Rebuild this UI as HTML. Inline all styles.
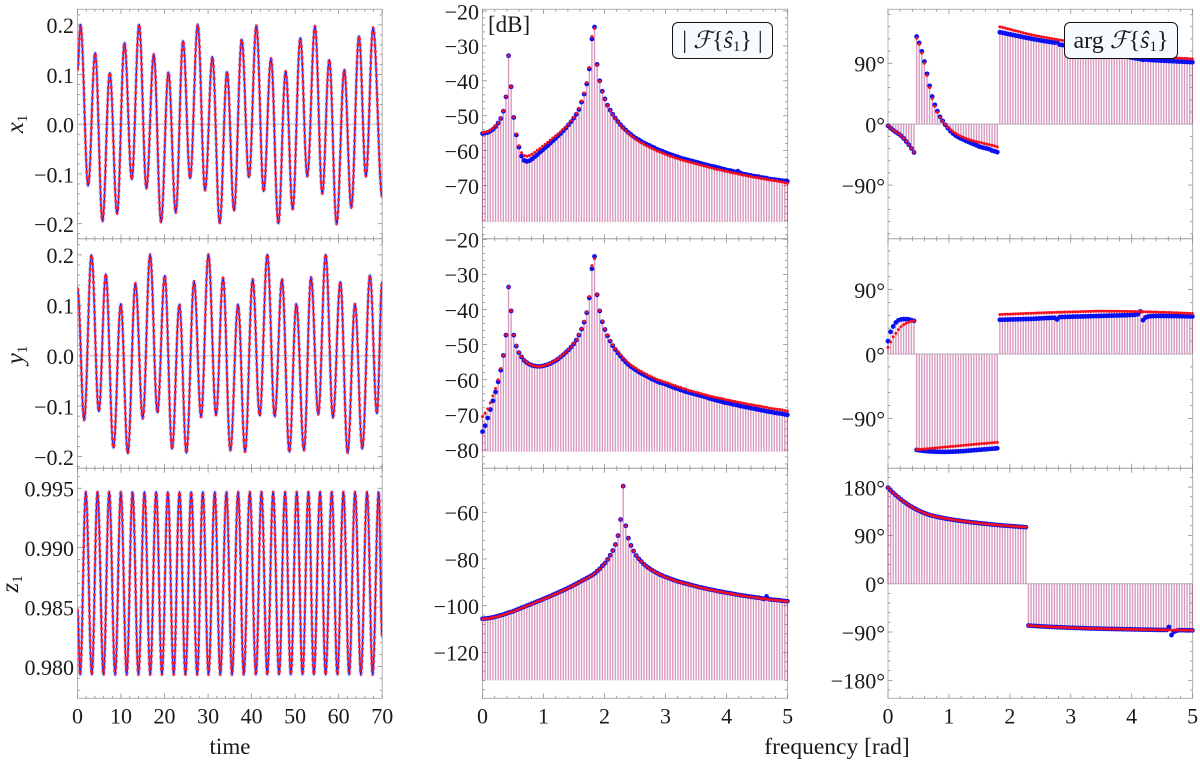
<!DOCTYPE html>
<html lang="en">
<head>
<meta charset="utf-8">
<title>Time series and Fourier spectra</title>
<style>
html,body{margin:0;padding:0;background:#fff;width:1200px;height:762px;overflow:hidden}
svg{display:block}
text{font-family:"Liberation Serif","DejaVu Serif",serif;fill:#1a1a1a}
</style>
</head>
<body>
<svg id="chart" width="1200" height="762" viewBox="0 0 1200 762" xmlns="http://www.w3.org/2000/svg">
  <g id="panels"></g>
  <text transform="translate(23,124) rotate(-90)" text-anchor="middle" font-size="25"><tspan font-style="italic">x</tspan><tspan font-size="15" dy="4">1</tspan></text>
  <text transform="translate(23,355) rotate(-90)" text-anchor="middle" font-size="25"><tspan font-style="italic">y</tspan><tspan font-size="15" dy="4">1</tspan></text>
  <text transform="translate(18,584) rotate(-90)" text-anchor="middle" font-size="25"><tspan font-style="italic">z</tspan><tspan font-size="15" dy="4">1</tspan></text>
  <text x="230" y="754" text-anchor="middle" font-size="23">time</text>
  <text x="837" y="754" text-anchor="middle" font-size="23.5">frequency [rad]</text>
  <text x="488" y="32" font-size="23">[dB]</text>
  <g>
    <rect x="672.5" y="22.5" width="100" height="36" rx="5.5" fill="#f6fbff" stroke="#111" stroke-width="1"/>
    <text x="722.5" y="48" text-anchor="middle" font-size="24">| <tspan font-style="italic">ℱ</tspan>{<tspan font-style="italic">ŝ</tspan><tspan font-size="15" dy="3">1</tspan><tspan dy="-3">}</tspan> |</text>
  </g>
  <g>
    <rect x="1064.5" y="22.5" width="113" height="36" rx="5.5" fill="#f6fbff" stroke="#111" stroke-width="1"/>
    <text x="1121" y="48" text-anchor="middle" font-size="24">arg <tspan font-style="italic">ℱ</tspan>{<tspan font-style="italic">ŝ</tspan><tspan font-size="15" dy="3">1</tspan><tspan dy="-3">}</tspan></text>
  </g>
</svg>
<script>
// ---------- time-domain data: turning points ----------
const x1Times = [0,0.69,2.45,4.05,5.74,7.42,9.1,10.79,12.47,14.15,15.84,17.52,19.2,20.89,22.57,24.25,25.87,27.62,29.3,30.99,32.67,34.35,35.96,37.72,39.4,41.09,42.77,44.45,46.14,47.82,49.43,51.19,52.79,54.55,56.24,57.84,59.53,61.29,62.9,64.66,66.26,67.91,70];
const x1Values = [0.109,0.201,-0.124,0.144,-0.195,0.104,-0.18,0.164,-0.111,0.201,-0.129,0.141,-0.197,0.105,-0.178,0.168,-0.109,0.201,-0.133,0.136,-0.199,0.106,-0.174,0.171,-0.107,0.199,-0.135,0.133,-0.2,0.107,-0.171,0.174,-0.105,0.198,-0.14,0.13,-0.201,0.11,-0.168,0.178,-0.105,0.195,-0.146];
const y1Times = [0,1.53,3.21,4.9,6.5,8.26,9.95,11.55,13.31,14.99,16.68,18.36,20.05,21.73,23.41,25.02,26.78,28.39,30.07,31.83,33.44,35.12,36.88,38.49,40.25,41.85,43.61,45.3,46.98,48.67,50.27,52.03,53.64,55.32,57.01,58.69,60.38,62.06,63.75,65.43,67.19,68.79,70];
const y1Values = [0.134,-0.128,0.2,-0.111,0.162,-0.183,0.103,-0.194,0.144,-0.125,0.201,-0.113,0.159,-0.185,0.102,-0.193,0.148,-0.122,0.201,-0.118,0.155,-0.188,0.102,-0.191,0.152,-0.119,0.201,-0.121,0.152,-0.191,0.103,-0.188,0.156,-0.117,0.201,-0.123,0.147,-0.193,0.103,-0.185,0.16,-0.115,0.147];
const z1Times = [0,0.61,1.91,3.29,4.6,5.97,7.28,8.65,9.96,11.3,12.64,14.0,15.39,16.7,18.07,19.4,20.75,22.1,23.43,24.8,26.11,27.5,28.79,30.1,31.54,32.8,34.22,35.5,36.9,38.2,39.58,41.0,42.26,43.6,44.94,46.3,47.69,49.0,50.37,51.7,53.05,54.3,55.73,57.0,58.41,59.7,61.09,62.4,63.77,65.1,66.53,67.8,69.2,70];
const z1Values = [0.9848,0.9793,0.9947,0.9793,0.9947,0.9793,0.9947,0.9793,0.9947,0.9793,0.9947,0.9793,0.9947,0.9793,0.9947,0.9793,0.9947,0.9793,0.9947,0.9793,0.9947,0.9793,0.9947,0.9793,0.9947,0.9793,0.9947,0.9793,0.9947,0.9793,0.9947,0.9793,0.9947,0.9793,0.9947,0.9793,0.9947,0.9793,0.9947,0.9793,0.9947,0.9793,0.9947,0.9793,0.9947,0.9793,0.9947,0.9793,0.9947,0.9793,0.9947,0.9793,0.9947,0.9825];

// ---------- spectra: one value per frequency bin ----------
const freqStep = 0.0427;

const magX1Blue = [-55.1,-55.0,-54.8,-54.4,-53.9,-53.1,-52.1,-50.8,-48.7,-44.6,
-32.8,-41.7,-50.5,-55.5,-59.0,-61.6,-62.8,-63.1,-62.9,-62.4,
-61.8,-61.2,-60.5,-59.9,-59.2,-58.6,-57.9,-57.2,-56.5,-55.8,
-55.1,-54.3,-53.5,-52.6,-51.7,-50.7,-49.6,-48.2,-46.1,-43.8,
-40.9,-36.6,-28.0,-24.6,-35.3,-40.0,-43.0,-45.2,-47.0,-48.4,
-49.6,-50.7,-51.7,-52.6,-53.4,-54.1,-54.8,-55.4,-56.0,-56.5,
-56.9,-57.4,-57.8,-58.2,-58.5,-58.9,-59.2,-59.6,-59.9,-60.2,
-60.5,-60.8,-61.1,-61.3,-61.6,-61.8,-62.1,-62.3,-62.5,-62.7,
-62.9,-63.1,-63.3,-63.5,-63.7,-63.9,-64.1,-64.3,-64.5,-64.6,
-64.8,-65.0,-65.2,-65.4,-65.6,-65.7,-65.9,-66.1,-65.9,-66.4,
-66.7,-66.8,-67.0,-67.1,-67.3,-67.4,-67.5,-67.7,-67.8,-67.9,
-68.1,-68.2,-68.3,-68.4,-68.5,-68.6,-68.7,-68.8];
const magX1Red = [-54.8,-54.7,-54.5,-54.1,-53.6,-52.9,-52.0,-50.7,-48.6,-44.5,
-32.8,-41.7,-50.4,-55.2,-58.6,-60.6,-61.4,-61.6,-61.4,-61.0,
-60.5,-59.9,-59.4,-58.8,-58.2,-57.6,-57.0,-56.4,-55.8,-55.2,
-54.6,-53.9,-53.2,-52.4,-51.5,-50.5,-49.3,-47.9,-45.8,-43.5,
-40.5,-36.2,-27.3,-25.0,-35.4,-40.1,-43.1,-45.3,-47.1,-48.5,
-49.7,-50.8,-51.8,-52.7,-53.5,-54.3,-55.0,-55.6,-56.2,-56.8,
-57.3,-57.8,-58.2,-58.6,-59.0,-59.4,-59.7,-60.1,-60.4,-60.7,
-61.0,-61.3,-61.6,-61.8,-62.1,-62.3,-62.6,-62.8,-63.0,-63.2,
-63.4,-63.6,-63.8,-64.0,-64.2,-64.4,-64.6,-64.8,-65.0,-65.2,
-65.4,-65.5,-65.7,-65.9,-66.0,-66.2,-66.4,-66.5,-66.7,-66.8,
-67.0,-67.1,-67.3,-67.4,-67.6,-67.7,-67.8,-68.0,-68.1,-68.2,
-68.4,-68.5,-68.6,-68.7,-68.9,-69.0,-69.2,-69.4];

const magY1Blue = [-74.8,-73.1,-70.9,-68.5,-66.0,-63.5,-60.6,-57.3,-53.1,-47.3,
-33.6,-40.4,-47.3,-50.4,-52.3,-53.5,-54.5,-55.1,-55.6,-55.9,
-56.1,-56.2,-56.2,-56.1,-55.9,-55.7,-55.4,-55.0,-54.6,-54.1,
-53.5,-52.9,-52.2,-51.5,-50.7,-49.8,-48.7,-47.3,-45.6,-43.6,
-40.9,-36.7,-28.4,-24.9,-35.8,-40.4,-43.5,-45.7,-47.5,-49.0,
-50.3,-51.4,-52.4,-53.3,-54.2,-55.0,-55.7,-56.3,-56.8,-57.3,
-57.8,-58.2,-58.6,-59.0,-59.4,-59.8,-60.1,-60.5,-60.8,-61.0,
-61.2,-61.5,-61.8,-62.1,-62.4,-62.6,-62.9,-63.1,-63.4,-63.6,
-63.8,-64.0,-64.2,-64.4,-64.6,-64.8,-65.0,-65.3,-65.5,-65.7,
-65.9,-66.1,-66.3,-66.5,-66.6,-66.8,-67.0,-67.1,-67.3,-67.5,
-67.6,-67.8,-67.9,-68.1,-68.2,-68.4,-68.5,-68.7,-68.8,-69.0,
-69.1,-69.2,-69.4,-69.5,-69.6,-69.7,-69.9,-70.0];
const magY1Red = [-70.5,-69.5,-68.3,-66.6,-64.6,-62.5,-60.0,-56.8,-53.1,-47.3,
-33.6,-40.4,-47.3,-50.3,-52.2,-53.4,-54.4,-55.0,-55.5,-55.9,
-56.1,-56.2,-56.2,-56.1,-55.9,-55.6,-55.3,-54.9,-54.5,-54.0,
-53.4,-52.8,-52.1,-51.4,-50.6,-49.7,-48.6,-47.2,-45.5,-43.4,
-40.7,-36.3,-27.5,-25.5,-35.7,-40.3,-43.4,-45.6,-47.3,-48.8,
-50.0,-51.1,-52.0,-52.9,-53.7,-54.5,-55.2,-55.8,-56.3,-56.8,
-57.3,-57.7,-58.1,-58.5,-58.9,-59.2,-59.6,-59.9,-60.2,-60.4,
-60.7,-60.9,-61.2,-61.5,-61.7,-62.0,-62.2,-62.5,-62.7,-63.0,
-63.2,-63.4,-63.6,-63.8,-64.0,-64.2,-64.4,-64.6,-64.8,-65.0,
-65.1,-65.3,-65.4,-65.6,-65.8,-65.9,-66.1,-66.2,-66.4,-66.5,
-66.7,-66.8,-67.0,-67.1,-67.2,-67.4,-67.5,-67.6,-67.8,-67.9,
-68.1,-68.2,-68.3,-68.4,-68.5,-68.6,-68.8,-68.9];

const magZ1Blue = [-105.6,-105.5,-105.4,-105.2,-105.0,-104.7,-104.4,-104.1,-103.8,-103.4,
-103.0,-102.7,-102.3,-101.8,-101.4,-100.9,-100.5,-100.0,-99.6,-99.1,
-98.7,-98.2,-97.8,-97.3,-96.8,-96.4,-95.9,-95.4,-94.9,-94.4,
-93.9,-93.4,-92.9,-92.3,-91.8,-91.2,-90.6,-90.0,-89.4,-88.8,
-88.2,-87.6,-87.0,-86.2,-85.2,-84.2,-82.9,-81.8,-80.2,-78.4,
-76.4,-73.8,-70.0,-63.1,-48.8,-65.8,-71.1,-74.2,-76.6,-78.5,
-79.9,-81.1,-82.3,-83.2,-84.0,-84.7,-85.4,-86.0,-86.6,-87.1,
-87.6,-88.0,-88.4,-88.8,-89.2,-89.6,-89.9,-90.2,-90.5,-90.8,
-91.1,-91.4,-91.7,-92.0,-92.2,-92.5,-92.7,-93.0,-93.2,-93.4,
-93.7,-93.9,-94.1,-94.3,-94.5,-94.7,-94.9,-95.1,-95.3,-95.5,
-95.7,-95.8,-96.0,-96.2,-96.3,-96.5,-96.6,-96.8,-97.1,-96.1,
-97.2,-97.4,-97.5,-97.6,-97.7,-97.9,-98.0,-98.1];
const magZ1Red = [-105.7,-105.6,-105.5,-105.3,-105.1,-104.8,-104.5,-104.2,-103.9,-103.5,
-103.1,-102.8,-102.4,-101.9,-101.5,-101.0,-100.6,-100.1,-99.7,-99.2,
-98.8,-98.3,-97.9,-97.4,-96.9,-96.5,-96.0,-95.5,-95.0,-94.5,
-94.0,-93.5,-93.0,-92.4,-91.9,-91.3,-90.7,-90.1,-89.5,-88.9,
-88.3,-87.7,-87.0,-86.2,-85.2,-84.2,-82.9,-81.8,-80.2,-78.4,
-76.4,-73.8,-70.0,-63.1,-48.8,-65.8,-71.1,-74.2,-76.6,-78.5,
-79.9,-81.1,-82.3,-83.2,-84.0,-84.7,-85.4,-86.0,-86.6,-87.1,
-87.7,-88.1,-88.5,-88.9,-89.3,-89.7,-90.0,-90.3,-90.6,-90.9,
-91.2,-91.5,-91.8,-92.1,-92.3,-92.6,-92.8,-93.1,-93.3,-93.5,
-93.8,-94.0,-94.2,-94.4,-94.6,-94.8,-95.0,-95.2,-95.4,-95.6,
-95.8,-95.9,-96.1,-96.3,-96.4,-96.6,-96.7,-96.9,-97.0,-97.1,
-97.3,-97.5,-97.6,-97.7,-97.8,-98.0,-98.1,-98.2];

const phaseX1Blue = [-2.5,-5.9,-8.9,-11.8,-14.3,-17.2,-21.0,-25.6,-30.5,-35.9,
-41.8,129.4,120,107.7,92.5,74.3,56.6,40.8,28.5,19.2,
10.8,4.9,-1,-5.9,-10.3,-13.8,-16.9,-19.2,-21.2,-23,
-24.8,-26.5,-28.1,-29.6,-31.2,-33,-34.1,-35.1,-36,-37,
-39,-40,-41.3,135.8,135,134.2,133.4,132.6,131.8,131,
130.2,129.4,128.6,127.8,127,126.3,125.6,124.9,124.2,123.5,
122.8,122.2,121.6,121,120.4,121,117.5,117,116.3,115.6,
114.9,114.2,113.5,112.8,112.1,111.4,110.7,110,109.3,108.6,
107.9,107.2,106.5,105.8,105.1,104.4,103.7,103,102.3,101.6,
100.9,100.2,99.5,98.8,98.1,97.4,96.8,96.2,95,95.4,
95,94.8,94.6,94.3,94.1,93.9,93.7,93.5,93.3,93.1,
92.9,92.7,92.5,92.3,92.1,91.9,91.7,91.5];
const phaseX1Red = [-2.2,-5.6,-8.6,-11.5,-14,-17,-20.8,-25.4,-30.4,-35.8,
-41.4,127,118,105,90,72,54,38,26.5,17.5,
10,4.5,-0.5,-4.5,-8,-11,-13.6,-15.8,-17.8,-19.5,
-21,-22.4,-23.6,-24.8,-25.8,-26.8,-27.7,-28.6,-29.5,-30.4,
-31.3,-32.3,-33.5,144,143,142,141,140,139,138,
137,136,135,134,133,132.2,131.4,130.6,129.9,129.2,
128.5,127.8,127.1,126.4,125.7,125,124.4,123.7,123,122.3,
121.6,120.9,120.2,119.5,118.8,118.1,117.4,116.7,116,115.3,
114.6,113.9,113.2,112.5,111.8,111.1,110.4,109.7,109,108.3,
107.6,106.9,106.2,105.5,104.8,104.1,103.4,102.7,102,101.6,
101.2,100.8,100.5,100.2,99.9,99.6,99.3,99,98.7,98.4,
98.1,97.8,97.6,97.4,97.2,97,96.7,96.4];

const phaseY1Blue = [18,31,38.5,44,47,48.3,48.7,48.7,48.3,47.3,
46.4,-134,-134.6,-135.1,-135.5,-135.8,-136.1,-136.3,-136.5,-136.6,
-136.7,-136.8,-136.8,-136.7,-136.6,-136.5,-136.3,-136.1,-135.9,-135.7,
-135.4,-135.1,-134.8,-134.5,-134.2,-133.9,-133.6,-133.3,-133,-132.7,
-132.4,-132.1,-131.8,47.8,47.9,48,48.1,48.2,48.3,48.4,
48.5,48.6,48.7,48.8,48.9,49,49.2,49.4,49.6,49.8,
50,50.2,50.4,50.5,50.6,48.3,51.5,51.7,51.8,51.9,
52,52.1,52.2,52.3,52.4,52.5,52.6,52.7,52.8,52.9,
53,53.1,53.2,53.3,53.4,53.5,53.6,53.7,53.8,53.9,
54,54.1,54.2,54.4,54.6,54.8,55.5,59.4,47.3,51,
52.4,52.8,53,53.1,53.2,53.2,53.2,53.1,53.1,53,
53,52.9,52.9,52.8,52.7,52.6,52.5,52.4];
const phaseY1Red = [9.3,17,24,29,34,38,41,43,44.5,45.5,
46.4,-133.6,-133.3,-133,-132.6,-132.3,-132,-131.6,-131.3,-131,
-130.7,-130.3,-130,-129.7,-129.3,-129,-128.7,-128.3,-128,-127.7,
-127.3,-127,-126.7,-126.3,-126,-125.7,-125.3,-125,-124.7,-124.3,
-124,-123.7,-123.4,55.2,55.4,55.5,55.7,55.8,55.9,56.1,
56.2,56.4,56.5,56.7,56.8,57,57.1,57.2,57.4,57.5,
57.7,57.8,57.9,58,58.1,58.3,58.4,58.5,58.6,58.7,
58.8,58.9,59,59.1,59.2,59.3,59.4,59.5,59.6,59.7,
59.9,59.9,59.9,59.9,59.9,59.8,59.8,59.8,59.7,59.7,
59.6,59.6,59.5,59.5,59.4,59.3,59.3,59.2,59.1,59,
58.9,58.8,58.7,58.6,58.5,58.4,58.3,58.2,58,57.9,
57.7,57.6,57.4,57.3,57.1,57,56.8,56.6];

const phaseZ1Blue = [178.8,174,169.5,165,161,157,153.2,149.8,146.6,143.6,
140.8,138.2,135.8,133.6,131.6,129.8,128.2,126.8,125.6,124.5,
123.5,122.5,121.6,120.7,119.9,119.1,118.4,117.7,117,116.3,
115.7,115.1,114.5,113.9,113.4,112.8,112.3,111.8,111.3,110.8,
110.3,109.9,109.4,109,108.6,108.2,107.8,107.4,107,106.7,
106.4,106,105.6,105.2,-78,-78.3,-78.6,-78.9,-79.2,-79.5,
-79.8,-80,-80.3,-80.5,-80.8,-81,-81.2,-81.4,-81.6,-81.9,
-82,-82.2,-82.4,-82.5,-82.7,-82.9,-83,-83.2,-83.3,-83.5,
-83.6,-83.7,-83.9,-84,-84.1,-84.2,-84.3,-84.4,-84.5,-84.6,
-84.7,-84.8,-84.9,-85,-85.1,-85.2,-85.3,-85.4,-85.5,-85.6,
-85.7,-85.8,-85.9,-86,-86.1,-86.1,-86.2,-86.3,-80.6,-95.6,
-89.4,-87.5,-86.6,-86.6,-86.7,-86.8,-86.8,-86.9];
const phaseZ1Red = [178.8,174,169.5,165,161,157,153.2,149.8,146.6,143.6,
140.8,138.2,135.8,133.6,131.6,129.8,128.2,126.8,125.6,124.5,
123.5,122.5,121.6,120.7,119.9,119.1,118.4,117.7,117,116.3,
115.7,115.1,114.5,113.9,113.4,112.8,112.3,111.8,111.3,110.8,
110.3,109.9,109.4,109,108.6,108.2,107.8,107.4,107,106.7,
106.4,106,105.6,105.2,-78,-78.3,-78.6,-78.9,-79.2,-79.5,
-79.8,-80,-80.3,-80.5,-80.8,-81,-81.2,-81.4,-81.6,-81.9,
-82,-82.2,-82.4,-82.5,-82.7,-82.9,-83,-83.2,-83.3,-83.5,
-83.6,-83.7,-83.9,-84,-84.1,-84.2,-84.3,-84.4,-84.5,-84.6,
-84.7,-84.8,-84.9,-85,-85.1,-85.2,-85.3,-85.4,-85.5,-85.6,
-85.7,-85.8,-85.9,-86,-86.1,-86.1,-86.2,-86.3,-86.3,-86.4,
-86.5,-86.5,-86.6,-86.6,-86.7,-86.8,-86.8,-86.9];

// ---------- tick labels ----------
const timeTicks = [0,10,20,30,40,50,60,70];
const freqTicks = [0,1,2,3,4,5];
const x1Ticks = ['0.2','0.1','0.0','-0.1','-0.2'];
const z1Ticks = ['0.995','0.990','0.985','0.980'];
const magTopTicks = [-20,-30,-40,-50,-60,-70];
const magMidTicks = [-20,-30,-40,-50,-60,-70,-80];
const magLowTicks = [-60,-80,-100,-120];
const phaseTopTicks = [90,0,-90];
const phaseLowTicks = [180,90,0,-90,-180];

// ---------- layout ----------
const colLeft = [77.5, 482.5, 888];
const colRight = [382.2, 787.6, 1192.6];
const rowTop = [9.3, 238.7, 468.3];
const rowBottom = [238.7, 468.3, 698.3];

const svgNS = 'http://www.w3.org/2000/svg';
const root = document.getElementById('panels');

function make(tag, parent) {
  const el = document.createElementNS(svgNS, tag);
  parent.appendChild(el);
  return el;
}

function scale(d0, d1, r0, r1) {
  return function (v) { return r0 + (v - d0) / (d1 - d0) * (r1 - r0); };
}

function addAxes(group, key, col, row, xDomain, xMajor, xMinorStep, yDomain, yMajor, yMinorStep, suffix, showXLabels, labelRight) {
  const L = colLeft[col], R = colRight[col], T = rowTop[row], B = rowBottom[row];
  const sx = scale(xDomain[0], xDomain[1], L, R);
  const sy = scale(yDomain[0], yDomain[1], B, T);

  const frame = make('rect', group);
  
  
  frame.setAttribute('x', L);
  frame.setAttribute('y', T);
  frame.setAttribute('width', R - L);
  frame.setAttribute('height', B - T);
  frame.setAttribute('fill', 'none');
  frame.setAttribute('stroke', '#b0b0b0');
  frame.setAttribute('stroke-width', '1');

  const majorX = xMajor.map(Number);
  const nx = Math.round((xDomain[1] - xDomain[0]) / xMinorStep);
  for (let i = 0; i <= nx; i++) {
    const v = xDomain[0] + i * xMinorStep;
    const isMajor = majorX.some(function (m) { return Math.abs(m - v) < 1e-6; });
    const len = isMajor ? 4.5 : 2.5;
    [[B, B - len], [T, T + len]].forEach(function (p) {
      const t = make('line', group);
      
      
      t.setAttribute('x1', sx(v));
      t.setAttribute('x2', sx(v));
      t.setAttribute('y1', p[0]);
      t.setAttribute('y2', p[1]);
      t.setAttribute('stroke', '#8c8c8c');
      t.setAttribute('stroke-width', '0.8');
    });
  }

  const majorY = yMajor.map(Number);
  const first = Math.ceil(yDomain[0] / yMinorStep);
  const last = Math.floor(yDomain[1] / yMinorStep);
  for (let i = first; i <= last; i++) {
    const v = i * yMinorStep;
    const isMajor = majorY.some(function (m) { return Math.abs(m - v) < yMinorStep * 0.01; });
    const len = isMajor ? 4.5 : 2.5;
    [[L, L + len], [R, R - len]].forEach(function (p) {
      const t = make('line', group);
      
      
      t.setAttribute('x1', p[0]);
      t.setAttribute('x2', p[1]);
      t.setAttribute('y1', sy(v));
      t.setAttribute('y2', sy(v));
      t.setAttribute('stroke', '#8c8c8c');
      t.setAttribute('stroke-width', '0.8');
    });
  }

  yMajor.forEach(function (label) {
    const t = make('text', group);
    
    
    t.setAttribute('x', labelRight);
    t.setAttribute('y', sy(Number(label)) + 8.3);
    t.setAttribute('text-anchor', 'end');
    t.setAttribute('font-size', '22');
    t.textContent = String(label).replace('-', '\u2212') + suffix;
  });

  if (showXLabels) {
    xMajor.forEach(function (label) {
      const t = make('text', group);
      
      
      t.setAttribute('x', sx(label));
      t.setAttribute('y', 723.5);
      t.setAttribute('text-anchor', 'middle');
      t.setAttribute('font-size', '22');
      t.textContent = String(label);
    });
  }
  return { sx: sx, sy: sy };
}

function drawTimePanel(key, row, times, values, yDomain, yMajor, yMinorStep, zeroLine) {
  const group = make('g', root);
  
  

  const clip = make('clipPath', group);
  clip.setAttribute('id', 'clip-' + key);
  const clipRect = make('rect', clip);
  clipRect.setAttribute('x', colLeft[0]);
  clipRect.setAttribute('y', rowTop[row]);
  clipRect.setAttribute('width', colRight[0] - colLeft[0]);
  clipRect.setAttribute('height', rowBottom[row] - rowTop[row]);

  const a = addAxes(group, key, 0, row, [0, 70], timeTicks, 2, yDomain, yMajor, yMinorStep, '', row === 2, 74);

  if (zeroLine) {
    const z = make('line', group);
    
    
    z.setAttribute('x1', colLeft[0]);
    z.setAttribute('x2', colRight[0]);
    z.setAttribute('y1', a.sy(0));
    z.setAttribute('y2', a.sy(0));
    z.setAttribute('stroke', '#bbbbbb');
    z.setAttribute('stroke-width', '1');
  }

  let d = 'M' + a.sx(times[0]).toFixed(2) + ' ' + a.sy(values[0]).toFixed(2);
  for (let i = 1; i < times.length; i++) {
    const x0 = a.sx(times[i - 1]), x1 = a.sx(times[i]);
    const y0 = a.sy(values[i - 1]), y1 = a.sy(values[i]);
    const c = (x1 - x0) * 0.3642;
    d += 'C' + (x0 + c).toFixed(2) + ' ' + y0.toFixed(2) + ' ' + (x1 - c).toFixed(2) + ' ' + y1.toFixed(2) + ' ' + x1.toFixed(2) + ' ' + y1.toFixed(2);
  }

  const halo = make('path', group);
  
  
  halo.setAttribute('d', d);
  halo.setAttribute('fill', 'none');
  halo.setAttribute('stroke', '#5070ff');
  halo.setAttribute('stroke-opacity', '0.2');
  halo.setAttribute('stroke-width', '3.8');
  halo.setAttribute('clip-path', 'url(#clip-' + key + ')');

  const red = make('path', group);
  
  
  red.setAttribute('d', d);
  red.setAttribute('fill', 'none');
  red.setAttribute('stroke', '#ff1a2a');
  red.setAttribute('stroke-width', '2.4');
  red.setAttribute('stroke-dasharray', '3.5 2.5');
  red.setAttribute('clip-path', 'url(#clip-' + key + ')');

  const blue = make('path', group);
  
  
  blue.setAttribute('d', d);
  blue.setAttribute('fill', 'none');
  blue.setAttribute('stroke', '#0a1cff');
  blue.setAttribute('stroke-width', '1.3');
  blue.setAttribute('stroke-dasharray', '2.5 3.5');
  blue.setAttribute('stroke-dashoffset', '-3.5');
  blue.setAttribute('clip-path', 'url(#clip-' + key + ')');
}

function drawSpectrumPanel(key, col, row, blueVals, redVals, base, yDomain, yMajor, yMinorStep, suffix, labelRight, baseLine) {
  const group = make('g', root);
  
  

  const a = addAxes(group, key, col, row, [0, 5], freqTicks, 0.2, yDomain, yMajor, yMinorStep, suffix, row === 2, labelRight);

  blueVals.forEach(function (v, k) {
    const s = make('line', group);
    
    
    s.setAttribute('x1', a.sx(k * freqStep));
    s.setAttribute('x2', a.sx(k * freqStep));
    s.setAttribute('y1', a.sy(base));
    s.setAttribute('y2', a.sy(v));
    s.setAttribute('stroke', '#802070');
    s.setAttribute('stroke-opacity', '0.26');
    s.setAttribute('stroke-width', '1.35');
  });
  redVals.forEach(function (v, k) {
    const s = make('line', group);
    
    
    s.setAttribute('x1', a.sx(k * freqStep));
    s.setAttribute('x2', a.sx(k * freqStep));
    s.setAttribute('y1', a.sy(base));
    s.setAttribute('y2', a.sy(v));
    s.setAttribute('stroke', '#c82070');
    s.setAttribute('stroke-opacity', '0.26');
    s.setAttribute('stroke-width', '1.35');
  });

  if (baseLine) {
    const z = make('line', group);
    
    
    z.setAttribute('x1', colLeft[col]);
    z.setAttribute('x2', colRight[col]);
    z.setAttribute('y1', a.sy(0));
    z.setAttribute('y2', a.sy(0));
    z.setAttribute('stroke', '#b8a8b8');
    z.setAttribute('stroke-width', '1');
  }

  blueVals.forEach(function (v, k) {
    const p = make('circle', group);
    
    
    p.setAttribute('cx', a.sx(k * freqStep));
    p.setAttribute('cy', a.sy(v));
    p.setAttribute('r', '2.4');
    p.setAttribute('fill', '#0a10f0');
  });
  redVals.forEach(function (v, k) {
    const p = make('circle', group);
    
    
    p.setAttribute('cx', a.sx(k * freqStep));
    p.setAttribute('cy', a.sy(v));
    p.setAttribute('r', '1.5');
    p.setAttribute('fill', '#f5101e');
  });
}

drawTimePanel('x1-time', 0, x1Times, x1Values, [-0.2302, 0.2314], x1Ticks, 0.02, true);
drawTimePanel('y1-time', 1, y1Times, y1Values, [-0.2234, 0.2321], x1Ticks, 0.02, true);
drawTimePanel('z1-time', 2, z1Times, z1Values, [0.97732, 0.99668], z1Ticks, 0.001, false);

drawSpectrumPanel('x1-magnitude', 1, 0, magX1Blue, magX1Red, -80.5, [-85.24, -19.51], magTopTicks, 2, '', 479, false);
drawSpectrumPanel('y1-magnitude', 1, 1, magY1Blue, magY1Red, -80.5, [-85.24, -19.83], magMidTicks, 2, '', 479, false);
drawSpectrumPanel('z1-magnitude', 1, 2, magZ1Blue, magZ1Red, -132, [-139.66, -41.16], magLowTicks, 4, '', 479, false);

drawSpectrumPanel('x1-phase', 2, 0, phaseX1Blue, phaseX1Red, 0, [-169.2, 169.7], phaseTopTicks, 18, '\u00b0', 885, true);
drawSpectrumPanel('y1-phase', 2, 1, phaseY1Blue, phaseY1Red, 0, [-159.7, 161.1], phaseTopTicks, 18, '\u00b0', 885, true);
drawSpectrumPanel('z1-phase', 2, 2, phaseZ1Blue, phaseZ1Red, 0, [-213.5, 215], phaseLowTicks, 18, '\u00b0', 885, true);
</script>
</body>
</html>
